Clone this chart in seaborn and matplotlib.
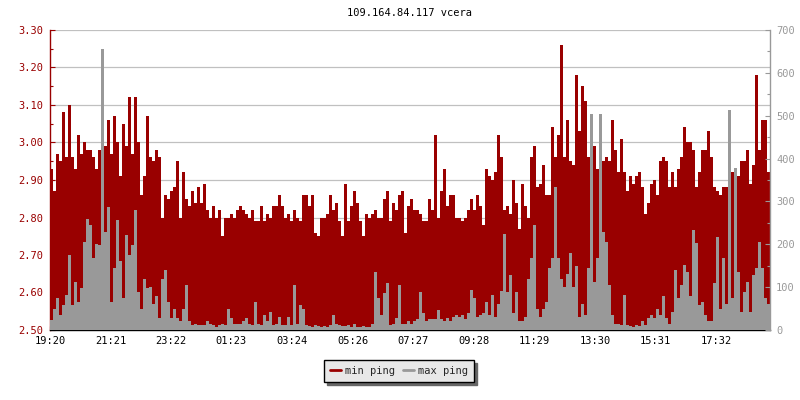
import numpy as np
import pandas as pd
import matplotlib
matplotlib.use("Agg")
import matplotlib.pyplot as plt
from matplotlib.lines import Line2D
from matplotlib.ticker import MultipleLocator, FixedLocator, FormatStrFormatter
import seaborn as sns

title = "109.164.84.117 vcera"
start_time = "19:20"
step_minutes = 6
tick_labels = ["19:20", "21:21", "23:22", "01:23", "03:24", "05:26",
               "07:27", "09:28", "11:29", "13:30", "15:31", "17:32"]

min_ping = [
    2.93, 2.87, 2.97, 2.95, 3.08, 2.96, 3.10, 2.96, 2.93, 3.02, 2.97, 3.00, 2.98, 2.98, 2.96, 2.93, 2.98,
    3.02, 2.99, 3.06, 2.97, 3.07, 3.00, 2.91, 3.05, 2.99, 3.12, 2.97, 3.12, 3.00, 2.86, 2.91, 3.07, 2.96,
    2.95, 2.98, 2.96, 2.80, 2.86, 2.85, 2.87, 2.88, 2.95, 2.80, 2.92, 2.85, 2.83, 2.87, 2.84, 2.88, 2.84,
    2.89, 2.82, 2.80, 2.83, 2.80, 2.82, 2.75, 2.80, 2.80, 2.81, 2.80, 2.82, 2.83, 2.82, 2.81, 2.80, 2.82,
    2.79, 2.79, 2.83, 2.79, 2.81, 2.80, 2.83, 2.83, 2.86, 2.83, 2.80, 2.81, 2.79, 2.82, 2.80, 2.79, 2.86,
    2.86, 2.83, 2.86, 2.76, 2.75, 2.80, 2.80, 2.81, 2.86, 2.82, 2.84, 2.79, 2.75, 2.89, 2.79, 2.83, 2.87,
    2.84, 2.79, 2.75, 2.81, 2.80, 2.81, 2.82, 2.80, 2.80, 2.85, 2.87, 2.79, 2.84, 2.82, 2.86, 2.87, 2.76,
    2.83, 2.85, 2.82, 2.82, 2.81, 2.79, 2.79, 2.85, 2.82, 3.02, 2.80, 2.87, 2.93, 2.83, 2.86, 2.86, 2.80,
    2.80, 2.79, 2.80, 2.82, 2.85, 2.82, 2.86, 2.83, 2.78, 2.93, 2.91, 2.90, 2.92, 3.02, 2.96, 2.82, 2.83,
    2.81, 2.90, 2.84, 2.77, 2.89, 2.83, 2.80, 2.96, 2.99, 2.88, 2.89, 2.94, 2.86, 2.86, 3.04, 2.96, 3.02,
    3.26, 2.96, 3.06, 2.95, 2.94, 3.18, 3.03, 3.15, 3.11, 2.96, 2.92, 2.99, 2.93, 2.89, 2.95, 2.96, 2.95,
    3.06, 2.98, 2.92, 3.01, 2.92, 2.87, 2.91, 2.89, 2.91, 2.92, 2.88, 2.81, 2.84, 2.89, 2.90, 2.86, 2.95,
    2.96, 2.95, 2.88, 2.92, 2.88, 2.93, 2.96, 3.04, 3.00, 3.00, 2.98, 2.88, 2.92, 2.98, 2.98, 3.03, 2.96,
    2.88, 2.87, 2.86, 2.88, 2.88, 2.87, 2.92, 2.93, 2.91, 2.95, 2.95, 2.98, 2.89, 2.94, 3.18, 2.98, 3.06,
    3.06, 2.92,
]

max_ping = [
    23, 50, 74, 35, 58, 82, 175, 58, 113, 66, 97, 206, 260, 245, 167, 200, 198, 655, 229, 287, 66, 144,
    257, 160, 74, 222, 175, 198, 280, 89, 50, 120, 97, 100,
    60, 80, 27, 120, 140, 66, 27, 50, 27, 20, 50, 105, 20, 12, 15, 12, 12, 12, 20, 15, 12, 8, 12, 15, 12,
    50, 27, 15, 15, 15, 20, 27, 15, 12,
    66, 15, 12, 35, 20, 43, 12, 15, 31, 12, 12, 31, 12, 105, 15, 58, 50, 12, 10, 8, 12, 10, 8, 10, 8, 12,
    35, 15, 12, 10, 10, 12, 8, 15,
    8, 8, 10, 8, 8, 15, 136, 74, 35, 86, 109, 12, 15, 27, 105, 15, 15, 20, 15, 20, 25, 89, 39, 20, 25, 25,
    25, 47, 25, 20, 27, 20, 30, 35,
    30, 35, 25, 40, 93, 74, 30, 35, 40, 66, 35, 82, 30, 60, 90, 224, 89, 128, 40, 89, 20, 20, 30, 120,
    167, 245, 50, 30, 50, 66, 144, 167, 334, 167,
    120, 100, 130, 180, 100, 150, 30, 60, 35, 144, 505, 113, 167, 503, 229, 206, 105, 35, 15, 15, 12, 82,
    12, 10, 8, 12, 10, 20, 12, 27, 35, 27, 50, 35,
    80, 27, 15, 43, 140, 74, 105, 152, 136, 80, 233, 202, 58, 66, 35, 20, 20, 110, 218, 50, 167, 60, 513,
    74, 377, 136, 43, 89, 113, 43, 128, 144, 206, 144, 74, 60,
]

RED = "#990000"
GRAY = "#999999"

sns.set_style("white")
plt.rcParams["font.family"] = ["DejaVu Sans Mono"]
FS = 7.5


def to_min(s):
    h, m = s.split(":")
    return int(h) * 60 + int(m)


t0 = to_min(start_time)
tick_pos = [(to_min(s) - t0) % 1440 for s in tick_labels]

n = len(min_ping)
df = pd.DataFrame({
    "t": np.arange(n) * step_minutes + step_minutes / 2,
    "min ping": min_ping,
    "max ping": max_ping,
})

fig = plt.figure(figsize=(8, 4), dpi=100)
ax = fig.add_axes([50 / 800, 70 / 400, 720 / 800, 300 / 400])
ax2 = ax.twinx()

sns.barplot(data=df, x="t", y="min ping", native_scale=True, width=1, color=RED,
            saturation=1, errorbar=None, linewidth=0, antialiased=False, ax=ax)
sns.barplot(data=df, x="t", y="max ping", native_scale=True, width=0.67, color=GRAY,
            saturation=1, errorbar=None, linewidth=0, antialiased=False, ax=ax2)

ax.set_xlim(0, n * step_minutes)
ax.set_ylim(2.5, 3.3)
ax2.set_ylim(0, 700)
ax.set_xlabel("")
ax.set_ylabel("")
ax2.set_ylabel("")
ax2.set_xlabel("")

ax.xaxis.set_major_locator(FixedLocator(tick_pos))
ax.set_xticklabels(tick_labels)
ax.yaxis.set_major_locator(MultipleLocator(0.1))
ax.yaxis.set_minor_locator(MultipleLocator(0.05))
ax.yaxis.set_major_formatter(FormatStrFormatter("%.2f"))
ax2.yaxis.set_major_locator(MultipleLocator(100))
ax2.yaxis.set_minor_locator(MultipleLocator(50))

ax.set_axisbelow(True)
ax.yaxis.grid(True, which="major", color="#c0c0c0", linewidth=0.9)
ax.xaxis.grid(False)

for s in ["top", "right"]:
    ax.spines[s].set_visible(False)
ax.spines["left"].set_color(RED)
ax.spines["left"].set_linewidth(1.0)
ax.spines["bottom"].set_color("black")
ax.spines["bottom"].set_linewidth(1.0)
for s in ["top", "left", "bottom"]:
    ax2.spines[s].set_visible(False)
ax2.spines["right"].set_color(GRAY)
ax2.spines["right"].set_linewidth(1.0)

ax.tick_params(axis="y", which="major", direction="in", length=3.8, width=0.8,
               color=RED, labelcolor=RED, labelsize=FS, pad=5, left=True)
ax.tick_params(axis="y", which="minor", direction="in", length=2.4, width=0.8, color=RED, left=True)
ax.tick_params(axis="x", which="major", direction="in", length=3, width=0.8,
               color="black", labelcolor="black", labelsize=FS, pad=4, bottom=True)
ax2.tick_params(axis="y", which="major", direction="in", length=3.8, width=0.8,
                color=GRAY, labelcolor=GRAY, labelsize=FS, pad=4.3, right=True)
ax2.tick_params(axis="y", which="minor", direction="in", length=2.4, width=0.8, color=GRAY, right=True)

fig.text(410 / 800, 1 - 13 / 400, title, ha="center", va="center", fontsize=FS, color="black")

handles = [Line2D([0], [0], color=RED, lw=2), Line2D([0], [0], color=GRAY, lw=2)]
leg = fig.legend(handles, ["min ping", "max ping"], loc="center",
                 bbox_to_anchor=(399 / 800, 1 - 371 / 400), ncol=2, frameon=True,
                 fancybox=False, edgecolor="black", facecolor="#e8e8e8", framealpha=1,
                 shadow={"color": "#666666", "alpha": 1}, fontsize=FS,
                 handlelength=1.1, handletextpad=0.4, columnspacing=0.7, borderpad=0.55)
leg.get_frame().set_linewidth(1.0)

fig.savefig("out.png", dpi=100)
